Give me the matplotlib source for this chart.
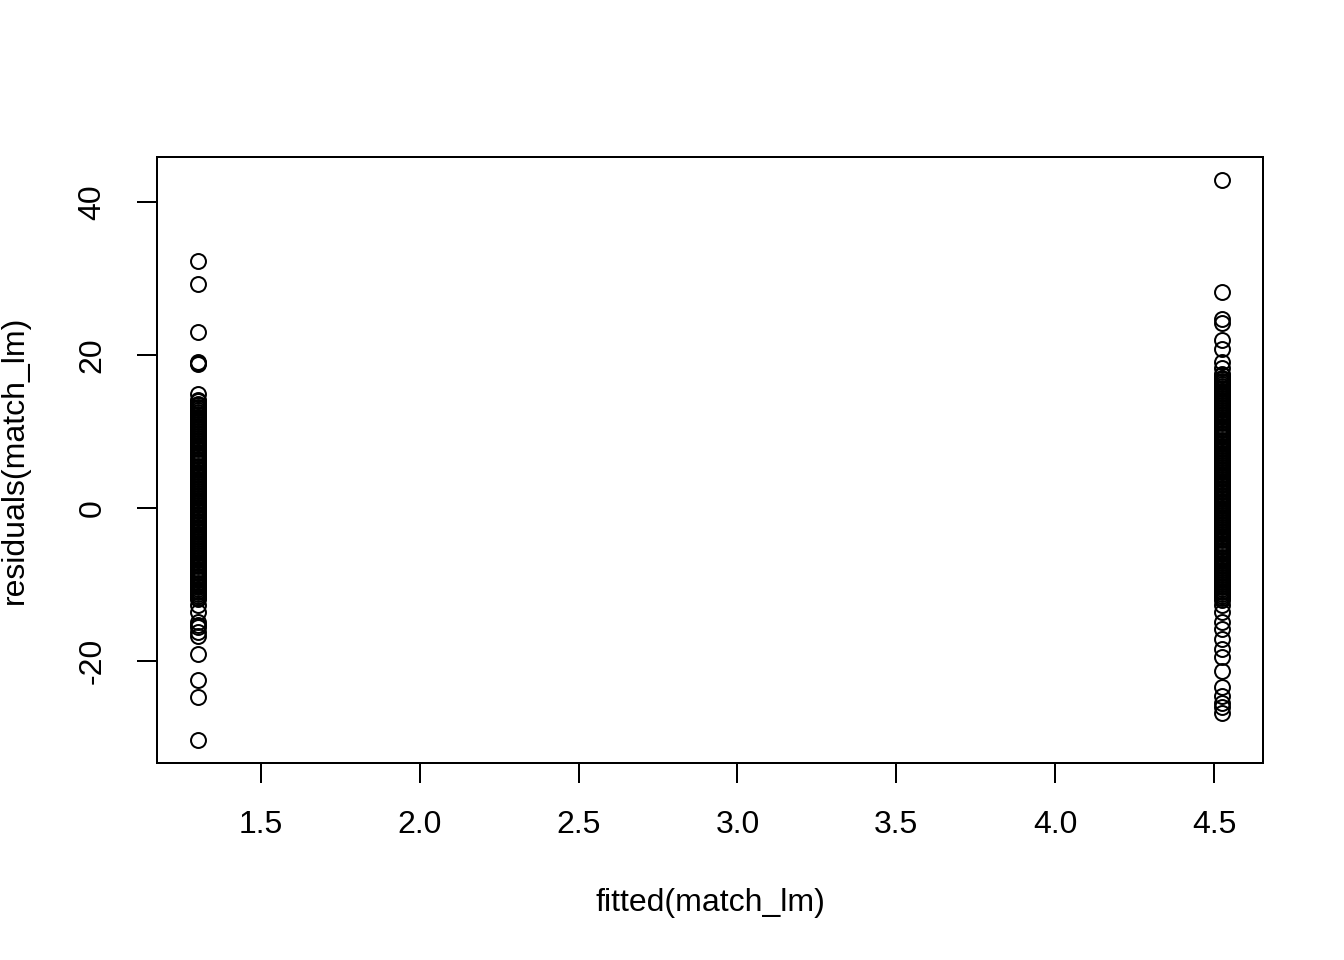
import matplotlib
matplotlib.use("Agg")
import matplotlib.pyplot as plt

plt.rcParams['font.family'] = ['Liberation Sans', 'DejaVu Sans']

# fitted values of the two groups
fit_lo = 1.302
fit_hi = 4.525

# residuals, group 1 (dense part estimated)
res_lo = [32.3, 29.4, 23.1, 19.2, 18.9, 19.0, 14.9,
          14.2, 14.0, 13.7, 13.5, 13.3, 13.1, 12.8, 12.6, 12.4, 12.2,
          11.9, 11.7, 11.5, 11.3, 11.0, 10.8, 10.6, 10.4, 10.1, 9.9,
          9.7, 9.5, 9.2, 9.0, 8.8, 8.6, 8.3, 8.1, 7.9, 7.7,
          7.4, 7.2, 7.0, 6.8, 6.5, 6.3, 6.1, 5.9, 5.6, 5.4,
          5.2, 5.0, 4.7, 4.5, 4.3, 4.1, 3.8, 3.6, 3.4, 3.2,
          2.9, 2.7, 2.5, 2.3, 2.0, 1.8, 1.6, 1.4, 1.1, 0.9,
          0.7, 0.5, 0.2, 0.0, -0.2, -0.4, -0.7, -0.9, -1.1, -1.3,
          -1.6, -1.8, -2.0, -2.2, -2.5, -2.7, -2.9, -3.1, -3.4, -3.6,
          -3.8, -4.0, -4.3, -4.5, -4.7, -4.9, -5.2, -5.4, -5.6, -5.8,
          -6.1, -6.3, -6.5, -6.7, -7.0, -7.2, -7.4, -7.6, -7.9, -8.1,
          -8.3, -8.5, -8.8, -9.0, -9.2, -9.4, -9.7, -9.9, -10.1, -10.3,
          -10.6, -10.8, -11.0, -11.2, -11.5, -11.7, -11.9,
          -12.7, -13.6, -14.9, -15.3, -15.5, -16.2, -16.7,
          -19.1, -22.4, -24.7, -30.3]

# residuals, group 2
res_hi = [43.0, 28.3, 24.7, 24.3, 22.0, 20.8, 19.1, 18.3,
          17.6, 17.4, 17.1, 16.9, 16.7, 16.5, 16.2, 16.0, 15.8, 15.6,
          15.3, 15.1, 14.9, 14.7, 14.4, 14.2, 14.0, 13.8, 13.5, 13.3,
          13.1, 12.9, 12.6, 12.4, 12.2, 12.0, 11.7, 11.5, 11.3, 11.1,
          10.8, 10.6, 10.4, 10.2, 9.9, 9.7, 9.5, 9.3, 9.0, 8.8,
          8.6, 8.4, 8.1, 7.9, 7.7, 7.5, 7.2, 7.0, 6.8, 6.6,
          6.3, 6.1, 5.9, 5.7, 5.4, 5.2, 5.0, 4.8, 4.5, 4.3,
          4.1, 3.9, 3.6, 3.4, 3.2, 3.0, 2.7, 2.5, 2.3, 2.1,
          1.8, 1.6, 1.4, 1.2, 0.9, 0.7, 0.5, 0.3, 0.0, -0.2,
          -0.4, -0.6, -0.9, -1.1, -1.3, -1.5, -1.8, -2.0, -2.2, -2.4,
          -2.7, -2.9, -3.1, -3.3, -3.6, -3.8, -4.0, -4.2, -4.5, -4.7,
          -4.9, -5.1, -5.4, -5.6, -5.8, -6.0, -6.3, -6.5, -6.7, -6.9,
          -7.2, -7.4, -7.6, -7.8, -8.1, -8.3, -8.5, -8.7, -9.0, -9.2,
          -9.4, -9.6, -9.9, -10.1, -10.3, -10.5, -10.8, -11.0, -11.2, -11.4,
          -11.7, -12.0,
          -12.7, -13.6, -14.8, -15.8, -17.1, -18.4, -19.5,
          -21.3, -23.3, -24.6, -25.4, -26.0, -26.7]

x = [fit_lo] * len(res_lo) + [fit_hi] * len(res_hi)
y = res_lo + res_hi

fig = plt.figure(figsize=(7, 5), dpi=192)
ax = fig.add_axes([0.1168, 0.2052, 0.8229, 0.6313])

ax.plot(x, y, linestyle='none', marker='o', markersize=5.6,
        markerfacecolor='none', markeredgecolor='black', markeredgewidth=0.75)

ax.set_xlim(1.173, 4.654)
ax.set_ylim(-33.3, 45.95)
ax.set_xticks([1.5, 2.0, 2.5, 3.0, 3.5, 4.0, 4.5])
ax.set_yticks([-20, 0, 20, 40])
ax.set_yticklabels(['-20', '0', '20', '40'], rotation=90, va='center')

ax.tick_params(axis='both', direction='out', length=7.5, width=0.75,
               labelsize=12)
ax.tick_params(axis='x', pad=10)
ax.tick_params(axis='y', pad=11)
for s in ax.spines.values():
    s.set_linewidth(0.75)

ax.set_xlabel('fitted(match_lm)', fontsize=12, labelpad=18)
ax.set_ylabel('residuals(match_lm)', fontsize=12, labelpad=18)

fig.savefig('out.png', dpi=192)
